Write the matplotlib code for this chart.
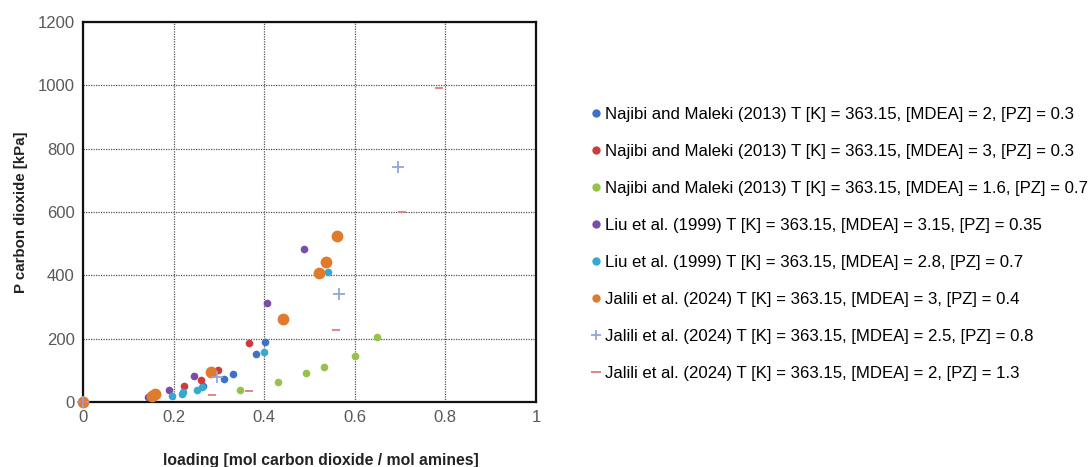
import matplotlib.pyplot as plt
from matplotlib.lines import Line2D

plt.rcParams['font.family'] = ['Liberation Sans', 'DejaVu Sans']

# loading [mol CO2 / mol amines] and P CO2 [kPa] for each data set
najibi_2_x = [0.265, 0.311, 0.331, 0.382, 0.402]
najibi_2_y = [50, 73, 88, 152, 190]
najibi_3_x = [0.157, 0.223, 0.260, 0.298, 0.366]
najibi_3_y = [25, 51, 69, 101, 187]
najibi_16_x = [0.347, 0.431, 0.492, 0.532, 0.600, 0.649]
najibi_16_y = [38, 64, 92, 112, 146, 205]
liu_315_x = [0.143, 0.190, 0.245, 0.406, 0.488]
liu_315_y = [16, 38, 82, 313, 483]
liu_28_x = [0.196, 0.218, 0.220, 0.251, 0.262, 0.400, 0.541]
liu_28_y = [19, 25, 33, 38, 48, 157, 412]
jalili_3_x = [0.0, 0.152, 0.160, 0.282, 0.442, 0.521, 0.536, 0.560]
jalili_3_y = [0, 20, 25, 95, 262, 408, 442, 524]
jalili_25_x = [0.0, 0.296, 0.565, 0.695]
jalili_25_y = [0, 79, 341, 743]
jalili_2_x = [0.0, 0.285, 0.366, 0.558, 0.704, 0.786]
jalili_2_y = [0, 22, 35, 227, 600, 992]

labels = [
    'Najibi and Maleki (2013) T [K] = 363.15, [MDEA] = 2, [PZ] = 0.3',
    'Najibi and Maleki (2013) T [K] = 363.15, [MDEA] = 3, [PZ] = 0.3',
    'Najibi and Maleki (2013) T [K] = 363.15, [MDEA] = 1.6, [PZ] = 0.7',
    'Liu et al. (1999) T [K] = 363.15, [MDEA] = 3.15, [PZ] = 0.35',
    'Liu et al. (1999) T [K] = 363.15, [MDEA] = 2.8, [PZ] = 0.7',
    'Jalili et al. (2024) T [K] = 363.15, [MDEA] = 3, [PZ] = 0.4',
    'Jalili et al. (2024) T [K] = 363.15, [MDEA] = 2.5, [PZ] = 0.8',
    'Jalili et al. (2024) T [K] = 363.15, [MDEA] = 2, [PZ] = 1.3',
]

series = [
    (najibi_2_x, najibi_2_y, 'o', '#3f72c2', 5.5),
    (najibi_3_x, najibi_3_y, 'o', '#cf3b3b', 5.5),
    (najibi_16_x, najibi_16_y, 'o', '#96c24a', 5.5),
    (liu_315_x, liu_315_y, 'o', '#7a4ea6', 5.5),
    (liu_28_x, liu_28_y, 'o', '#35a9cf', 5.5),
    (jalili_3_x, jalili_3_y, 'o', '#e07b2c', 8.5),
    (jalili_25_x, jalili_25_y, '+', '#8ea8d8', 9),
    (jalili_2_x, jalili_2_y, '_', '#e07a7a', 6),
]

fig = plt.figure(figsize=(10.9, 4.67), dpi=100)
ax = fig.add_axes([0.0761, 0.139, 0.4156, 0.814])

handles = []
for (x, y, m, c, ms), lab in zip(series, labels):
    mew = 1.3 if m in '+_' else 0
    ax.plot(x, y, linestyle='none', marker=m, color=c, ms=ms, mew=mew,
            clip_on=False, zorder=3)
    handles.append(Line2D([], [], linestyle='none', marker=m, color=c,
                          ms=6 if m == 'o' else 7, mew=mew, label=lab))

ax.set_xlim(0, 1)
ax.set_ylim(0, 1200)
ax.set_xticks([0, 0.2, 0.4, 0.6, 0.8, 1])
ax.set_xticklabels(['0', '0.2', '0.4', '0.6', '0.8', '1'])
ax.set_yticks(range(0, 1201, 200))
ax.grid(True, linestyle=(0, (1, 1)), color='#555555', linewidth=0.9)
ax.tick_params(length=0, labelsize=12, labelcolor='#595959', pad=6)
for s in ax.spines.values():
    s.set_linewidth(1.6)
    s.set_color('#111111')

ax.set_xlabel('loading [mol carbon dioxide / mol amines]', fontsize=11.3,
              fontweight='bold', labelpad=20, color='#222222')
ax.xaxis.label.set_x(0.525)
ax.set_ylabel('P carbon dioxide [kPa]', fontsize=10.8, fontweight='bold',
              labelpad=7, color='#222222')

fig.legend(handles=handles, loc='upper left', bbox_to_anchor=(0.537, 0.786),
           frameon=False, fontsize=12.1, handlelength=0.5, handletextpad=0.3,
           labelspacing=1.31, borderaxespad=0)

fig.savefig('out.png', dpi=100)
